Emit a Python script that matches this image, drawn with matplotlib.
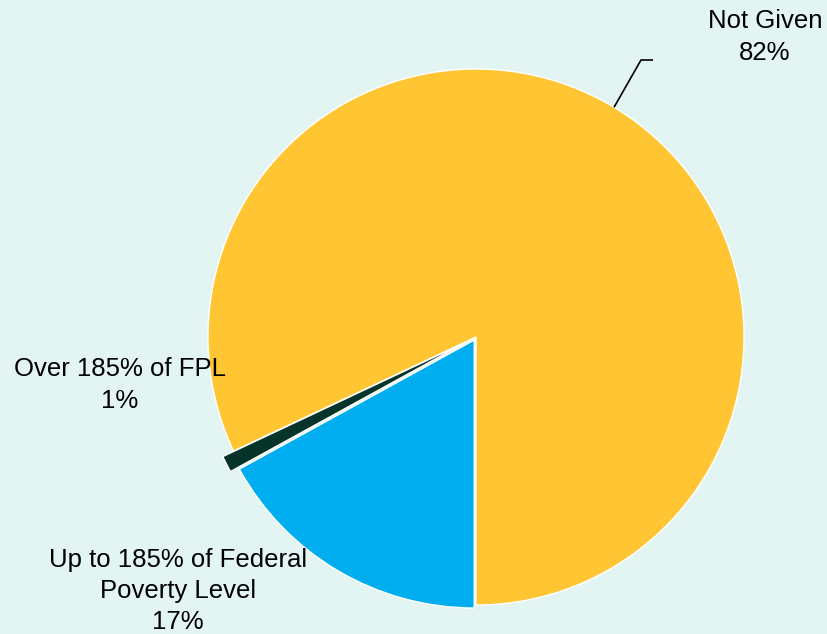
import numpy as np
import matplotlib
matplotlib.use("Agg")
import matplotlib.pyplot as plt

# Income level shares (percent)
categories = ["Not Given", "Over 185% of FPL", "Up to 185% of Federal\nPoverty Level"]
values = [82, 1, 17]
colors = ["#FFC533", "#06342A", "#00AEEF"]

W, H = 827, 634
fig = plt.figure(figsize=(W / 100, H / 100), dpi=100)
bg = "#E2F5F3"
fig.patch.set_facecolor(bg)
ax = fig.add_axes([0, 0, 1, 1])
ax.set_facecolor(bg)
ax.set_xlim(0, W)
ax.set_ylim(0, H)
ax.axis("off")

# pie works in data units here (pixels), so the explode offsets are in pixels
cx, cy, r = 476, H - 337, 268
explode = [0, 12, 3.5]
ax.pie(values, colors=colors, explode=explode, startangle=270,
       counterclock=True, center=(cx, cy), radius=r,
       wedgeprops=dict(edgecolor="white", linewidth=1.0))
ax.set_xlim(0, W)
ax.set_ylim(0, H)
ax.set_aspect("equal")

font = dict(family=["Liberation Sans", "DejaVu Sans"], fontsize=18.5,
            color="black", ha="center", va="center", linespacing=1.38)

def label(i):
    return f"{categories[i]}\n{values[i]}%"

ax.text(765, H - 37, label(0), **font)
ax.text(120, H - 385, label(1), **font)
ax.text(178, H - 591, label(2), **font)

# Leader line for the large slice
ang = np.deg2rad(59)
x0, y0 = cx + r * np.cos(ang), cy + r * np.sin(ang)
ax.plot([x0, 641, 653], [y0, H - 60, H - 60], color="black", lw=1.2,
        solid_capstyle="butt")

fig.savefig("out.png", dpi=100, facecolor=bg)
